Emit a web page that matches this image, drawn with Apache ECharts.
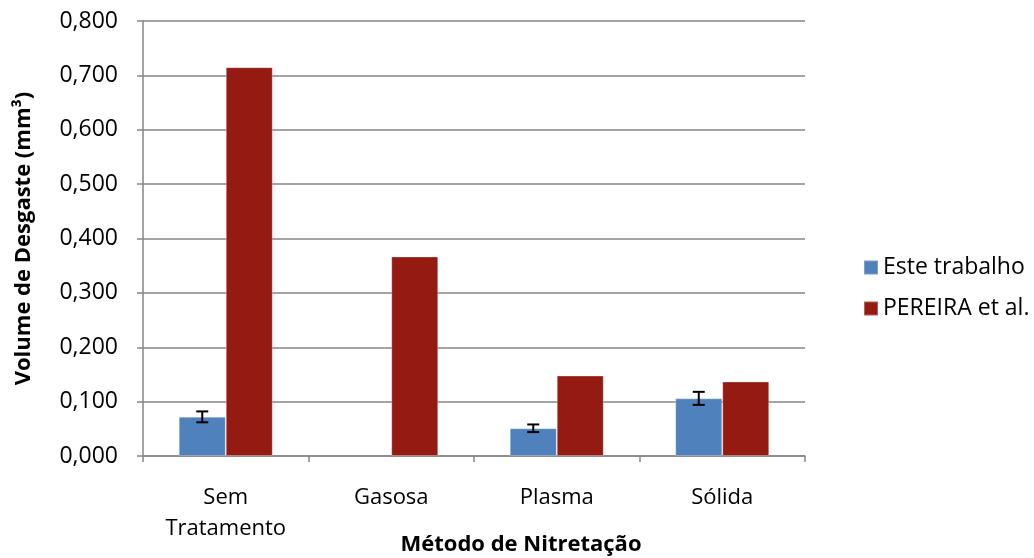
<!DOCTYPE html>
<html>
<head>
<meta charset="utf-8">
<script src="https://cdn.jsdelivr.net/npm/echarts@6/dist/echarts.min.js"></script>
<style>html,body{margin:0;padding:0;background:#fff;}#c{width:1034px;height:558px;}</style>
</head>
<body>
<div id="c"></div>
<script>
const categories = ['Sem\nTratamento', 'Gasosa', 'Plasma', 'Sólida'];
const esteTrabalho = [0.072, null, 0.051, 0.106];
const esteErro = [0.010, null, 0.007, 0.012];
const pereira = [0.715, 0.367, 0.148, 0.137];

const FONT = '"Open Sans", "Liberation Sans", sans-serif';
const BAR_FRAC = 0.284;

const chart = echarts.init(document.getElementById('c'));
chart.setOption({
  animation: false,
  backgroundColor: '#fff',
  grid: { left: 143, right: 229, top: 21, bottom: 102, containLabel: false, outerBoundsMode: 'none' },
  legend: {
    orient: 'vertical',
    left: 858, top: 251,
    itemWidth: 14, itemHeight: 14, itemGap: 18,
    icon: 'rect',
    textStyle: { fontFamily: FONT, fontSize: 23, color: '#000' },
    data: ['Este trabalho', 'PEREIRA et al.']
  },
  xAxis: {
    type: 'category',
    data: categories,
    name: 'Método de Nitretação',
    nameLocation: 'middle',
    nameGap: 78,
    nameMoveOverlap: false,
    nameTextStyle: { fontFamily: FONT, fontSize: 22, fontWeight: 'bold', color: '#000', padding: [0, 0, 0, 94] },
    axisLine: { lineStyle: { color: '#868686', width: 1.5 } },
    axisTick: { show: true, length: 6, lineStyle: { color: '#868686', width: 1.5 } },
    axisLabel: { fontFamily: FONT, fontSize: 22, color: '#000', margin: 26, lineHeight: 31 }
  },
  yAxis: {
    type: 'value',
    min: 0, max: 0.8, interval: 0.1,
    name: 'Volume de Desgaste (mm³)',
    nameLocation: 'middle',
    nameGap: 108,
    nameMoveOverlap: false,
    nameTextStyle: { fontFamily: FONT, fontSize: 22, fontWeight: 'bold', color: '#000' },
    axisLine: { show: true, lineStyle: { color: '#868686', width: 1.5 } },
    axisTick: { show: true, length: 6, lineStyle: { color: '#868686', width: 1.5 } },
    splitLine: { lineStyle: { color: '#868686', width: 1.5 } },
    axisLabel: {
      fontFamily: FONT, fontSize: 23, color: '#000', margin: 25,
      formatter: v => v.toFixed(3).replace('.', ',')
    }
  },
  series: [
    {
      name: 'Este trabalho', type: 'bar', data: esteTrabalho,
      barWidth: (BAR_FRAC * 100) + '%', barGap: '0%',
      itemStyle: { color: '#4F81BD', borderColor: 'rgba(255,255,255,0.25)', borderWidth: 1 }
    },
    {
      name: 'PEREIRA et al.', type: 'bar', data: pereira,
      barWidth: (BAR_FRAC * 100) + '%', barGap: '0%',
      itemStyle: { color: '#941A12', borderColor: 'rgba(255,255,255,0.3)', borderWidth: 1 }
    },
    {
      type: 'custom', name: 'erro', silent: true, z: 10,
      data: esteTrabalho.map((v, i) => v == null ? null : [i, v, esteErro[i]]),
      renderItem: function (params, api) {
        const idx = api.value(0), val = api.value(1), err = api.value(2);
        const band = api.size([1, 0])[0];
        const off = -band * BAR_FRAC / 2;
        const hi = api.coord([idx, val + err]);
        const lo = api.coord([idx, val - err]);
        const x = hi[0] + off;
        const cap = 6;
        const st = { stroke: '#000', lineWidth: 2 };
        return {
          type: 'group',
          children: [
            { type: 'line', shape: { x1: x, y1: hi[1], x2: x, y2: lo[1] }, style: st },
            { type: 'line', shape: { x1: x - cap, y1: hi[1], x2: x + cap, y2: hi[1] }, style: st },
            { type: 'line', shape: { x1: x - cap, y1: lo[1], x2: x + cap, y2: lo[1] }, style: st }
          ]
        };
      }
    }
  ]
});
</script>
</body>
</html>
